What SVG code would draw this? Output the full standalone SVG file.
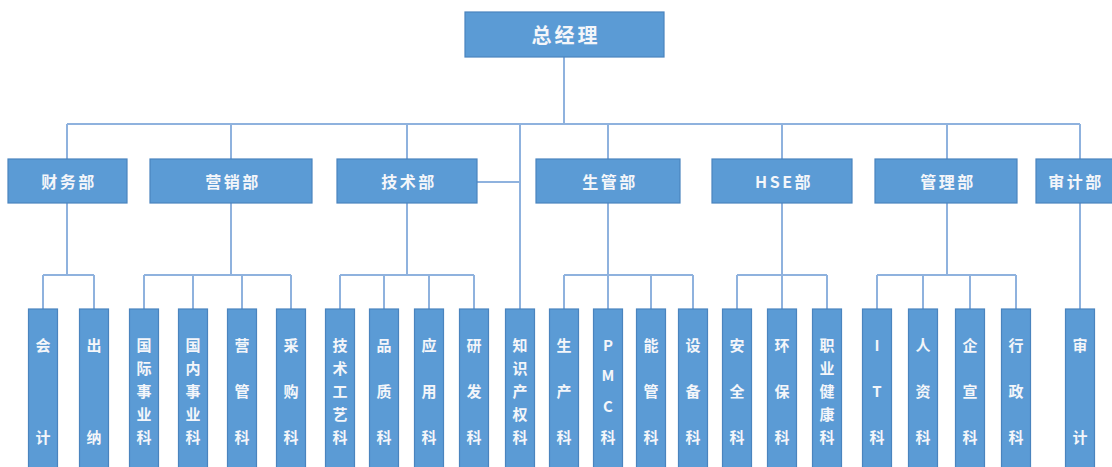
<svg xmlns="http://www.w3.org/2000/svg" width="1112" height="467" viewBox="0 0 1112 467">
<style>
.box{fill:#5B9BD5;stroke:#4A84BE;stroke-width:1.2}
.t{font-family:"Noto Sans CJK SC","Noto Sans",sans-serif;font-weight:bold;fill:#F4F6FA;text-anchor:middle;dominant-baseline:central}
.top{font-size:20px;letter-spacing:3px}
.dept{font-size:16px;letter-spacing:2.5px}
.sub{font-size:15px}
.ln{stroke:#8FB2DE;stroke-width:2;fill:none}
</style>
<rect width="1112" height="467" fill="#FFFFFF"/>
<g id="connectors" class="ln">
<path d="M564 57V124M67 124H1080M67 124V159M231 124V159M407 124V159M608 124V159M782 124V159M947 124V159M1080 124V159"/>
<path d="M520 124V309M477 182H520"/>
<path d="M67 203V275M43 275H94M43 275V309M94 275V309"/>
<path d="M231 203V275M144 275H291M144 275V309M193 275V309M242 275V309M291 275V309"/>
<path d="M407 203V275M340 275H474M340 275V309M384 275V309M429 275V309M474 275V309"/>
<path d="M608 203V275M564 275H693M564 275V309M608 275V309M651 275V309M693 275V309"/>
<path d="M782 203V275M737 275H827M737 275V309M782 275V309M827 275V309"/>
<path d="M947 203V275M877 275H1016M877 275V309M923 275V309M970 275V309M1016 275V309"/>
<path d="M1080 203V309"/>
</g>
<g id="ceo"><rect class="box" x="465" y="12" width="199" height="45"/><text class="t top" x="566" y="34">总经理</text></g>
<g id="d-caiwu"><rect class="box" x="8" y="159" width="119" height="44"/><text class="t dept" x="69" y="181">财务部</text></g>
<g id="d-yingxiao"><rect class="box" x="150" y="159" width="162" height="44"/><text class="t dept" x="233" y="181">营销部</text></g>
<g id="d-jishu"><rect class="box" x="337" y="159" width="140" height="44"/><text class="t dept" x="409" y="181">技术部</text></g>
<g id="d-shengguan"><rect class="box" x="536" y="159" width="144" height="44"/><text class="t dept" x="610" y="181">生管部</text></g>
<g id="d-hse"><rect class="box" x="712" y="159" width="140" height="44"/><text class="t dept" x="784" y="181">HSE部</text></g>
<g id="d-guanli"><rect class="box" x="875" y="159" width="142" height="44"/><text class="t dept" x="948" y="181">管理部</text></g>
<g id="d-shenji"><rect class="box" x="1036" y="159" width="84" height="44"/><text class="t dept" x="1076" y="181">审计部</text></g>
<g id="s-kuaiji"><rect class="box" x="28.5" y="309" width="29" height="165"/><text class="t sub" x="43"><tspan x="43" y="344">会</tspan><tspan x="43" y="436">计</tspan></text></g>
<g id="s-chuna"><rect class="box" x="79.5" y="309" width="29" height="165"/><text class="t sub"><tspan x="94" y="344">出</tspan><tspan x="94" y="436">纳</tspan></text></g>
<g id="s-guoji"><rect class="box" x="129.5" y="309" width="29" height="165"/><text class="t sub"><tspan x="144" y="344">国</tspan><tspan x="144" y="367">际</tspan><tspan x="144" y="390">事</tspan><tspan x="144" y="413">业</tspan><tspan x="144" y="436">科</tspan></text></g>
<g id="s-guonei"><rect class="box" x="178.5" y="309" width="29" height="165"/><text class="t sub"><tspan x="193" y="344">国</tspan><tspan x="193" y="367">内</tspan><tspan x="193" y="390">事</tspan><tspan x="193" y="413">业</tspan><tspan x="193" y="436">科</tspan></text></g>
<g id="s-yingguan"><rect class="box" x="227.5" y="309" width="29" height="165"/><text class="t sub"><tspan x="242" y="344">营</tspan><tspan x="242" y="390">管</tspan><tspan x="242" y="436">科</tspan></text></g>
<g id="s-caigou"><rect class="box" x="276.5" y="309" width="29" height="165"/><text class="t sub"><tspan x="291" y="344">采</tspan><tspan x="291" y="390">购</tspan><tspan x="291" y="436">科</tspan></text></g>
<g id="s-jishugongyi"><rect class="box" x="325.5" y="309" width="29" height="165"/><text class="t sub"><tspan x="340" y="344">技</tspan><tspan x="340" y="367">术</tspan><tspan x="340" y="390">工</tspan><tspan x="340" y="413">艺</tspan><tspan x="340" y="436">科</tspan></text></g>
<g id="s-pinzhi"><rect class="box" x="369.5" y="309" width="29" height="165"/><text class="t sub"><tspan x="384" y="344">品</tspan><tspan x="384" y="390">质</tspan><tspan x="384" y="436">科</tspan></text></g>
<g id="s-yingyong"><rect class="box" x="414.5" y="309" width="29" height="165"/><text class="t sub"><tspan x="429" y="344">应</tspan><tspan x="429" y="390">用</tspan><tspan x="429" y="436">科</tspan></text></g>
<g id="s-yanfa"><rect class="box" x="459.5" y="309" width="29" height="165"/><text class="t sub"><tspan x="474" y="344">研</tspan><tspan x="474" y="390">发</tspan><tspan x="474" y="436">科</tspan></text></g>
<g id="s-zhishichanquan"><rect class="box" x="505.5" y="309" width="29" height="165"/><text class="t sub"><tspan x="520" y="344">知</tspan><tspan x="520" y="367">识</tspan><tspan x="520" y="390">产</tspan><tspan x="520" y="413">权</tspan><tspan x="520" y="436">科</tspan></text></g>
<g id="s-shengchan"><rect class="box" x="549.5" y="309" width="29" height="165"/><text class="t sub"><tspan x="564" y="344">生</tspan><tspan x="564" y="390">产</tspan><tspan x="564" y="436">科</tspan></text></g>
<g id="s-pmc"><rect class="box" x="593.5" y="309" width="29" height="165"/><text class="t sub"><tspan x="608" y="344">P</tspan><tspan x="608" y="374">M</tspan><tspan x="608" y="405">C</tspan><tspan x="608" y="436">科</tspan></text></g>
<g id="s-nengguan"><rect class="box" x="636.5" y="309" width="29" height="165"/><text class="t sub"><tspan x="651" y="344">能</tspan><tspan x="651" y="390">管</tspan><tspan x="651" y="436">科</tspan></text></g>
<g id="s-shebei"><rect class="box" x="678.5" y="309" width="29" height="165"/><text class="t sub"><tspan x="693" y="344">设</tspan><tspan x="693" y="390">备</tspan><tspan x="693" y="436">科</tspan></text></g>
<g id="s-anquan"><rect class="box" x="722.5" y="309" width="29" height="165"/><text class="t sub"><tspan x="737" y="344">安</tspan><tspan x="737" y="390">全</tspan><tspan x="737" y="436">科</tspan></text></g>
<g id="s-huanbao"><rect class="box" x="767.5" y="309" width="29" height="165"/><text class="t sub"><tspan x="782" y="344">环</tspan><tspan x="782" y="390">保</tspan><tspan x="782" y="436">科</tspan></text></g>
<g id="s-zhiye"><rect class="box" x="812.5" y="309" width="29" height="165"/><text class="t sub"><tspan x="827" y="344">职</tspan><tspan x="827" y="367">业</tspan><tspan x="827" y="390">健</tspan><tspan x="827" y="413">康</tspan><tspan x="827" y="436">科</tspan></text></g>
<g id="s-it"><rect class="box" x="862.5" y="309" width="29" height="165"/><text class="t sub"><tspan x="877" y="344">I</tspan><tspan x="877" y="390">T</tspan><tspan x="877" y="436">科</tspan></text></g>
<g id="s-renzi"><rect class="box" x="908.5" y="309" width="29" height="165"/><text class="t sub"><tspan x="923" y="344">人</tspan><tspan x="923" y="390">资</tspan><tspan x="923" y="436">科</tspan></text></g>
<g id="s-qixuan"><rect class="box" x="955.5" y="309" width="29" height="165"/><text class="t sub"><tspan x="970" y="344">企</tspan><tspan x="970" y="390">宣</tspan><tspan x="970" y="436">科</tspan></text></g>
<g id="s-xingzheng"><rect class="box" x="1001.5" y="309" width="29" height="165"/><text class="t sub"><tspan x="1016" y="344">行</tspan><tspan x="1016" y="390">政</tspan><tspan x="1016" y="436">科</tspan></text></g>
<g id="s-shenji"><rect class="box" x="1065.5" y="309" width="29" height="165"/><text class="t sub"><tspan x="1080" y="344">审</tspan><tspan x="1080" y="436">计</tspan></text></g>
</svg>
